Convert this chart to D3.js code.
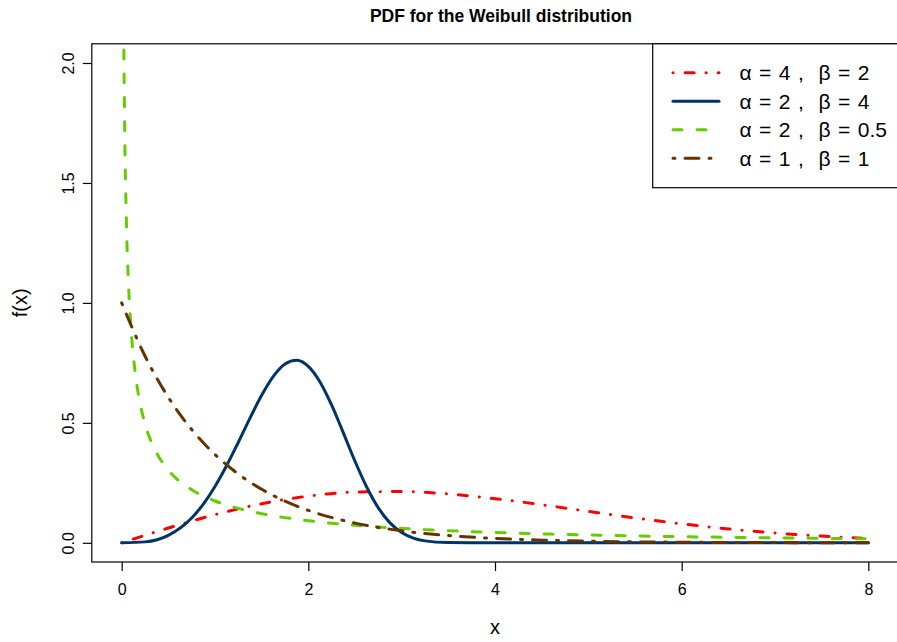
<!DOCTYPE html>
<html>
<head>
<meta charset="utf-8">
<script src="https://cdn.jsdelivr.net/npm/d3@7"></script>
<style>
  html, body { margin: 0; padding: 0; background: #fff; }
  svg text { font-family: "Liberation Sans", Arial, Helvetica, sans-serif; }
</style>
</head>
<body>
<svg id="chart" width="897" height="642"></svg>
<script>
// ---- data ----
const redX   = [0,0.5,1,1.5,2,2.5,3,3.5,4,4.5,5,5.5,6,6.5,7,7.5,8];
const redY   = [0,0.0615,0.1174,0.1629,0.1947,0.2115,0.2137,0.2035,0.1839,0.1587,0.1310,0.1038,0.0791,0.0580,0.0409,0.0279,0.0183];

const blueX  = [0,0.25,0.5,0.75,0.875,1,1.125,1.25,1.375,1.5,1.625,1.75,1.875,2,2.125,2.25,2.375,2.5,2.625,2.75,2.875,3,3.125,3.25,3.5,3.75,4,5,6,7,8];
const blueY  = [0,0.0039,0.0311,0.1034,0.1615,0.2349,0.3220,0.4192,0.5198,0.6149,0.6938,0.7456,0.7611,0.7358,0.6707,0.5739,0.4585,0.3400,0.2326,0.1457,0.0831,0.0427,0.0197,0.0080,0.0009,0.0001,0,0,0,0,0];

const greenX = [0.005,0.01,0.02,0.03,0.05,0.075,0.1,0.15,0.2,0.25,0.375,0.5,0.75,1,1.25,1.5,1.75,2,2.5,3,3.5,4,4.5,5,5.5,6,6.5,7,7.5,8];
const greenY = [4.7561,3.2942,2.2621,1.8059,1.3499,1.0637,0.8940,0.6942,0.5762,0.4965,0.3744,0.3033,0.2213,0.1743,0.1434,0.1214,0.1049,0.0920,0.0731,0.0600,0.0503,0.0430,0.0372,0.0325,0.0287,0.0255,0.0229,0.0206,0.0186,0.0169];

const brownX = [0,0.25,0.5,0.75,1,1.25,1.5,1.75,2,2.5,3,3.5,4,4.5,5,5.5,6,7,8];
const brownY = [1,0.7788,0.6065,0.4724,0.3679,0.2865,0.2231,0.1738,0.1353,0.0821,0.0498,0.0302,0.0183,0.0111,0.0067,0.0041,0.0025,0.0009,0.0003];

const xTicks = [0,2,4,6,8];
const yTicks = [0,0.5,1,1.5,2];
const yTickLabels = ["0.0","0.5","1.0","1.5","2.0"];
const legendLabels = ["\u03B1 = 4 ,  \u03B2 = 2","\u03B1 = 2 ,  \u03B2 = 4","\u03B1 = 2 ,  \u03B2 = 0.5","\u03B1 = 1 ,  \u03B2 = 1"];
const titleText = "PDF for the Weibull distribution";
const xLabel = "x";
const yLabel = "f(x)";

// ---- styles ----
const seriesStyle = [
  {color:"#FF0000", dash:"0.1,12,9,12"},
  {color:"#003366", dash:null},
  {color:"#66CC00", dash:"9,15"},
  {color:"#663300", dash:"2,10,14,10"}
];
const series = [
  {x:redX, y:redY}, {x:blueX, y:blueY}, {x:greenX, y:greenY}, {x:brownX, y:brownY}
];

const svg = d3.select("#chart");
const pLeft = 91.8, pRight = 898.2, pTop = 43.8, pBottom = 562;
const x = d3.scaleLinear().domain([-0.32, 8.32]).range([pLeft, pRight]);
const y = d3.scaleLinear().domain([-0.08, 2.08]).range([pBottom, pTop]);

svg.append("defs").append("clipPath").attr("id","clip")
  .append("rect").attr("x", pLeft).attr("y", pTop).attr("width", pRight-pLeft).attr("height", pBottom-pTop);

// curves
const line = d3.line().x(d => x(d[0])).y(d => y(d[1])).curve(d3.curveMonotoneX);
const g = svg.append("g").attr("clip-path","url(#clip)");
series.forEach((s, i) => {
  const pts = s.x.map((v, j) => [v, s.y[j]]);
  g.append("path").attr("d", line(pts))
    .attr("fill","none").attr("stroke", seriesStyle[i].color)
    .attr("stroke-width", 3).attr("stroke-linecap","round").attr("stroke-linejoin","round")
    .attr("stroke-dasharray", seriesStyle[i].dash);
});

// frame
svg.append("rect").attr("x", pLeft).attr("y", pTop).attr("width", pRight-pLeft).attr("height", pBottom-pTop)
  .attr("fill","none").attr("stroke","#000").attr("stroke-width",1.2);

// x axis
const xAxis = d3.axisBottom(x).tickValues(xTicks).tickSize(9).tickPadding(13).tickFormat(d3.format("d"));
const gx = svg.append("g").attr("transform", `translate(0,${pBottom})`).call(xAxis);
gx.select(".domain").remove();
gx.selectAll("line").attr("stroke","#000").attr("stroke-width",1.2);
gx.selectAll("text").attr("font-size",16).attr("fill","#000")
  .attr("font-family","'Liberation Sans', Arial, Helvetica, sans-serif");

// y axis
const yAxis = d3.axisLeft(y).tickValues(yTicks).tickSize(9).tickPadding(0).tickFormat((d,i) => yTickLabels[i]);
const gy = svg.append("g").attr("transform", `translate(${pLeft},0)`).call(yAxis);
gy.select(".domain").remove();
gy.selectAll("line").attr("stroke","#000").attr("stroke-width",1.2);
gy.selectAll("text").attr("font-size",16).attr("fill","#000")
  .attr("font-family","'Liberation Sans', Arial, Helvetica, sans-serif")
  .attr("x", null).attr("dy", null)
  .attr("text-anchor","middle")
  .attr("transform","translate(-23,0) rotate(-90)")
  .attr("y", 0).attr("dy","0.35em");

// titles
svg.append("text").attr("x", (pLeft+pRight)/2 + 6).attr("y", 21.5).attr("text-anchor","middle")
  .attr("font-size",17.5).attr("font-weight","bold").text(titleText);
svg.append("text").attr("x", (pLeft+pRight)/2).attr("y", 634).attr("text-anchor","middle")
  .attr("font-size",20).text(xLabel);
svg.append("text").attr("transform", `translate(27,${(pTop+pBottom)/2}) rotate(-90)`).attr("text-anchor","middle")
  .attr("font-size",20).text(yLabel);

// legend
const legX = 652.7, legY = pTop, legW = pRight - 652.7, legH = 187.7 - pTop;
svg.append("rect").attr("x", legX).attr("y", legY).attr("width", legW).attr("height", legH)
  .attr("fill","#fff").attr("stroke","#000").attr("stroke-width",1.2);
const rowY = d3.scaleLinear().domain([0,3]).range([72.7, 158.3]);
legendLabels.forEach((lab, i) => {
  svg.append("line").attr("x1", 673).attr("x2", 719).attr("y1", rowY(i)).attr("y2", rowY(i))
    .attr("stroke", seriesStyle[i].color).attr("stroke-width",3).attr("stroke-linecap","round")
    .attr("stroke-dasharray", seriesStyle[i].dash);
  svg.append("text").attr("x", 739.5).attr("y", rowY(i)).attr("dy","0.36em")
    .attr("font-size",21).attr("word-spacing","1.6px")
    .attr("xml:space","preserve").style("white-space","pre").text(lab);
});
</script>
</body>
</html>
